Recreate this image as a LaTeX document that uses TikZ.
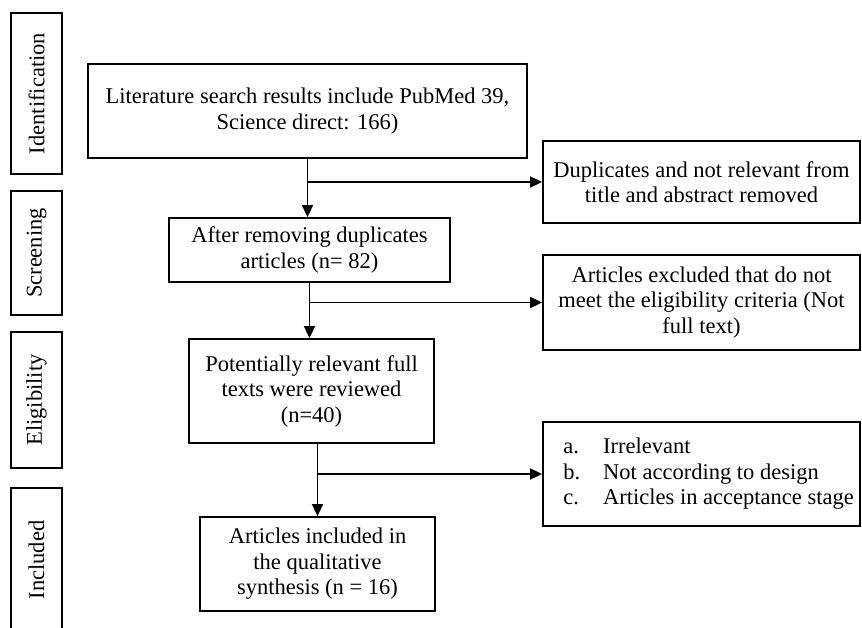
\documentclass[tikz,border=0pt]{standalone}
\usepackage{fontspec}
\setmainfont{Liberation Serif}
\usetikzlibrary{arrows.meta}

\begin{document}
\begin{tikzpicture}[x=1pt, y=-1pt,
        txt/.style={font=\fontsize{22.5}{25.5}\selectfont},
        box/.style={draw, line width=1.8pt, txt, align=center, inner sep=2pt},
        stage/.style={draw, line width=1.8pt, txt, rotate=90, minimum height=51pt, inner sep=0pt},
        flow/.style={line width=1.7pt, -{Triangle[length=12pt, width=11pt]}}]
        \useasboundingbox (0,0) rectangle (862,627);
        %STAGES
        \node[stage, minimum width=161pt] (ident) at (36.5,93.5) {Identification};
        \node[stage, minimum width=124pt] (screen) at (36.5,253) {Screening};
        \node[stage, minimum width=136pt] (elig) at (36.5,400) {Eligibility};
        \node[stage, minimum width=144pt] (incl) at (36.5,560) {Included};
        %MAIN BOXES
        \node[box, minimum width=439pt, minimum height=94pt] (search) at (307.5,111) {Literature search results include PubMed 39,\\Science direct: 166)};
        \node[box, minimum width=281pt, minimum height=64pt] (dedup) at (309.5,250) {After removing duplicates\\articles (n= 82)};
        \node[box, minimum width=245pt, minimum height=104pt] (full) at (311.5,391) {Potentially relevant full\\texts were reviewed\\(n=40)};
        \node[box, minimum width=235pt, minimum height=94pt] (final) at (317.5,564) {Articles included in\\the qualitative\\synthesis (n = 16)};
        %EXCLUDED BOXES
        \node[box, minimum width=317pt, minimum height=82pt] (rem1) at (701.5,182) {Duplicates and not relevant from\\title and abstract removed};
        \node[box, minimum width=317pt, minimum height=95pt] (rem2) at (701.5,302.5) {Articles excluded that do not\\meet the eligibility criteria (Not\\full text)};
        \node[box, minimum width=317pt, minimum height=104pt] (rem3) at (701.5,474) {\begin{tabular}{@{\hspace{14pt}}p{40pt}@{}l@{}}
                a. & Irrelevant\\
                b. & Not according to design\\
                c. & Articles in acceptance stage
            \end{tabular}};
        %ARROWS
        \draw[flow] (search.south) -- (search.south |- dedup.north);
        \draw[flow] (search.south |- rem1.west) -- (rem1.west);
        \draw[flow] (dedup.south) -- (dedup.south |- full.north);
        \draw[flow] (dedup.south |- rem2.west) -- (rem2.west);
        \draw[flow] (final.north |- full.south) -- (final.north);
        \draw[flow] (final.north |- rem3.west) -- (rem3.west);
    \end{tikzpicture}
\end{document}
